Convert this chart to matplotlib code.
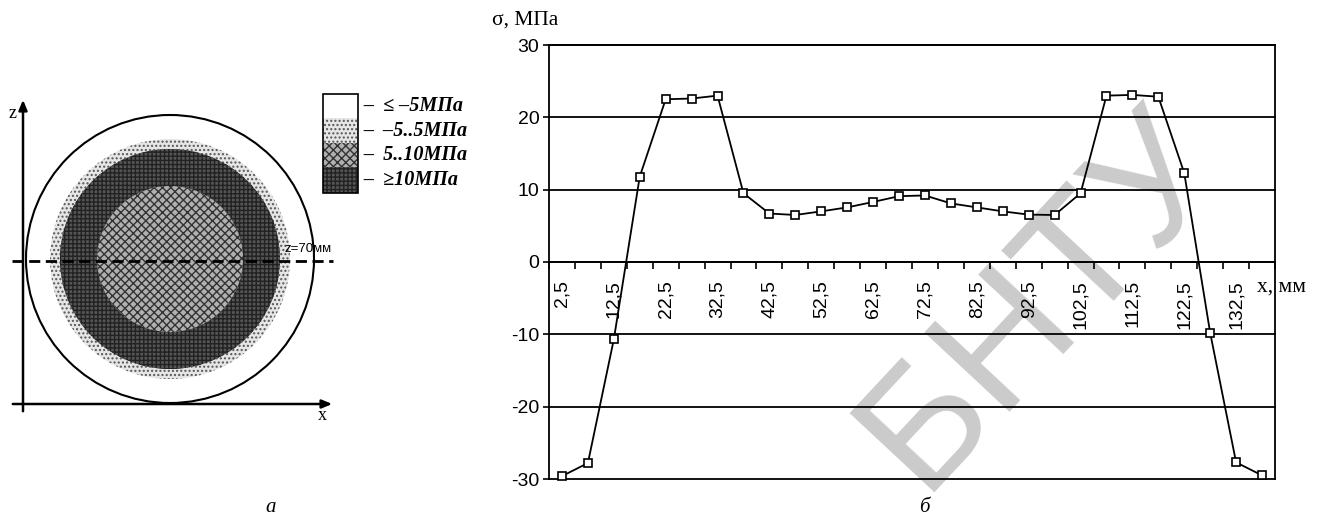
import matplotlib
matplotlib.use("Agg")
import matplotlib.pyplot as plt
from matplotlib.patches import Circle, Rectangle
from matplotlib.ticker import FixedLocator, FixedFormatter

# ---------------- data ----------------
x_mm = [2.5, 7.5, 12.5, 17.5, 22.5, 27.5, 32.5, 37.5, 42.5, 47.5, 52.5, 57.5,
        62.5, 67.5, 72.5, 77.5, 82.5, 87.5, 92.5, 97.5, 102.5, 107.5, 112.5,
        117.5, 122.5, 127.5, 132.5, 137.5]
sigma = [-29.6, -27.8, -10.7, 11.8, 22.5, 22.6, 23.0, 9.5, 6.7, 6.5, 7.0, 7.55,
         8.3, 9.1, 9.2, 8.1, 7.55, 7.0, 6.55, 6.5, 9.5, 23.0, 23.1, 22.85,
         12.3, -9.8, -27.7, -29.5]
x_label_pos = [2.5, 12.5, 22.5, 32.5, 42.5, 52.5, 62.5, 72.5, 82.5, 92.5,
               102.5, 112.5, 122.5, 132.5]
x_labels = ["2,5", "12,5", "22,5", "32,5", "42,5", "52,5", "62,5", "72,5",
            "82,5", "92,5", "102,5", "112,5", "122,5", "132,5"]
x_bounds = [0, 5, 10, 15, 20, 25, 30, 35, 40, 45, 50, 55, 60, 65, 70, 75, 80,
            85, 90, 95, 100, 105, 110, 115, 120, 125, 130, 135, 140]
y_ticks = [-30, -20, -10, 0, 10, 20, 30]
y_labels = ["-30", "-20", "-10", "0", "10", "20", "30"]

legend_labels = ["–  ≤ –5МПа", "–  –5..5МПа", "–  5..10МПа", "–  ≥10МПа"]

W, H = 1325, 520
fig = plt.figure(figsize=(W / 100, H / 100), dpi=100)
fig.patch.set_facecolor("white")

SERIF = ["Liberation Serif", "DejaVu Serif"]
SANS = ["Liberation Sans", "DejaVu Sans"]

# ---------------- watermark ----------------
fig.text(1040 / W, 1 - 300 / H, "БНТУ", fontsize=122, color="#cbcbcb",
         rotation=47, ha="center", va="center", family=SANS, zorder=-5)

# ---------------- right panel: line chart ----------------
ax = fig.add_axes([549 / W, 1 - 479 / H, 726 / W, 434 / H])
ax.set_facecolor("none")
ax.set_zorder(2)
ax.set_xlim(0, 140)
ax.set_ylim(-30, 30)

for y in y_ticks:
    ax.axhline(y, color="black", lw=1.3, zorder=1, clip_on=False)

ax.plot(x_mm, sigma, color="black", lw=1.3, marker="s", markersize=6,
        markerfacecolor="white", markeredgecolor="black", markeredgewidth=1.2,
        zorder=3, clip_on=False)

for s in ["left", "right", "top"]:
    ax.spines[s].set_linewidth(1.3)
ax.spines["bottom"].set_position(("data", 0))
ax.spines["bottom"].set_linewidth(1.3)

ax.yaxis.set_major_locator(FixedLocator(y_ticks))
ax.yaxis.set_major_formatter(FixedFormatter(y_labels))
ax.tick_params(axis="y", direction="out", length=4, width=1.2, pad=3,
               labelsize=14)
for t in ax.get_yticklabels():
    t.set_family(SANS)

ax.xaxis.set_major_locator(FixedLocator(x_label_pos))
ax.xaxis.set_major_formatter(FixedFormatter(x_labels))
ax.xaxis.set_minor_locator(FixedLocator(x_bounds))
ax.tick_params(axis="x", which="major", length=0, pad=13, labelsize=14,
               labelrotation=90)
ax.tick_params(axis="x", which="minor", direction="out", length=5, width=1.2)
for t in ax.get_xticklabels():
    t.set_family(SANS)

fig.text(492 / W, 1 - 20 / H, "σ, МПа", fontsize=15.5, family=SERIF,
         ha="left", va="center")
fig.text(1257 / W, 1 - 287 / H, "x, мм", fontsize=15.5, family=SERIF,
         ha="left", va="center", zorder=5)
fig.text(924 / W, 1 - 507 / H, "б", fontsize=15, family=SERIF,
         style="italic", ha="center", va="center")

# ---------------- left panel: cross-section diagram ----------------
ax0 = fig.add_axes([0, 0, 480 / W, 1])
ax0.set_xlim(0, 480)
ax0.set_ylim(H, 0)
ax0.axis("off")
ax0.set_facecolor("none")

cx, cy = 170, 259
r_outer, r_dot, r_dark, r_inner = 144, 120, 110, 73

plt.rcParams["hatch.linewidth"] = 1.0
ax0.add_patch(Circle((cx, cy), r_outer, facecolor="white", edgecolor="black",
                     lw=1.5, zorder=2))
ax0.add_patch(Circle((cx, cy), r_dot, facecolor="#e6e6e6", edgecolor="#555555",
                     hatch="....", lw=0, zorder=3))
ax0.add_patch(Circle((cx, cy), r_dark, facecolor="#555555", edgecolor="#222222",
                     hatch="++++", lw=0, zorder=4))
ax0.add_patch(Circle((cx, cy), r_inner, facecolor="#b0b0b0", edgecolor="#333333",
                     hatch="xxxx", lw=0, zorder=5))

# axes of the diagram
ax0.annotate("", xy=(23, 97), xytext=(23, 414),
             arrowprops=dict(arrowstyle="-|>,head_length=0.6,head_width=0.25",
                             color="black", lw=1.8), zorder=6)
ax0.annotate("", xy=(335, 404), xytext=(10, 404),
             arrowprops=dict(arrowstyle="-|>,head_length=0.6,head_width=0.25",
                             color="black", lw=1.8), zorder=6)
ax0.text(13, 113, "z", fontsize=13, family=SERIF, ha="center", va="center")
ax0.text(322, 416, "x", fontsize=13, family=SERIF, ha="center", va="center")

ax0.plot([12, 333], [261, 261], color="black", lw=2, ls=(0, (4, 2)), zorder=7)
ax0.text(285, 249, "z=70мм", fontsize=9.5, family=SANS, ha="left",
         va="center", zorder=8)

# legend
box_x, box_w = 323, 35
box_tops = [94, 118, 143, 167]
box_h = [24, 25, 24, 26]
styles = [dict(facecolor="white", hatch=None, edgecolor="#555555"),
          dict(facecolor="#e6e6e6", hatch="....", edgecolor="#555555"),
          dict(facecolor="#b0b0b0", hatch="xxxx", edgecolor="#333333"),
          dict(facecolor="#555555", hatch="++++", edgecolor="#222222")]
for top, h, st, lab in zip(box_tops, box_h, styles, legend_labels):
    ax0.add_patch(Rectangle((box_x, top), box_w, h, lw=0, zorder=3, **st))
    ax0.text(box_x + box_w + 5, top + h / 2, lab, fontsize=14.5, family=SERIF,
             style="italic", weight="bold", ha="left", va="center")
ax0.add_patch(Rectangle((box_x, box_tops[0]), box_w, sum(box_h),
                        facecolor="none", edgecolor="black", lw=1.2, zorder=4))

ax0.text(271, 508, "а", fontsize=15, family=SERIF, style="italic",
         ha="center", va="center")

fig.savefig("out.png", dpi=100)
